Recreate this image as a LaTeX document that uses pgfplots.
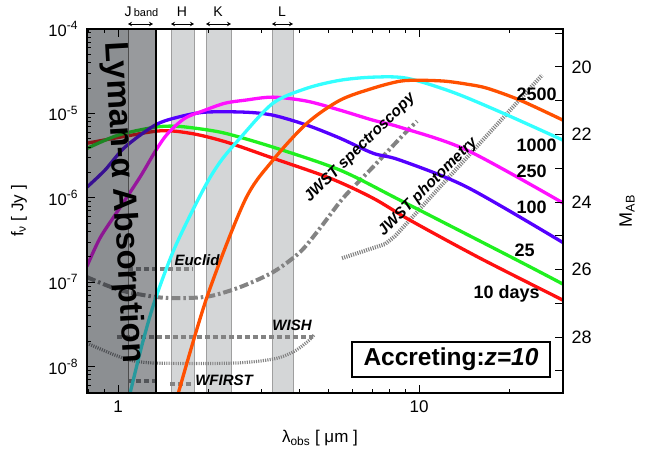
\documentclass[border=0pt]{standalone}
\usepackage{pgfplots}
\pgfplotsset{compat=1.18}
\usepackage{fontspec}
\setmainfont{Liberation Sans}
\usetikzlibrary{arrows.meta}
\newcommand{\fs}[1]{\fontsize{#1}{#1}\selectfont}
\newcommand{\tp}[1]{10\raisebox{0.42em}{\fs{12}-#1}}
\definecolor{cred}{HTML}{FF1010}
\definecolor{cgreen}{HTML}{20F020}
\definecolor{cblue}{HTML}{5500FF}
\definecolor{cmag}{HTML}{FF10FF}
\definecolor{ccyan}{HTML}{33FFFF}
\definecolor{corange}{HTML}{FF5000}
\definecolor{cgray}{HTML}{838383}
\definecolor{cband}{HTML}{D4D6D7}
\definecolor{cdark}{HTML}{1A1F26}
\begin{document}
\begin{tikzpicture}[x=1pt,y=1pt]
\useasboundingbox (0,0) rectangle (652,448);
\begin{axis}[
  at={(87pt,55pt)}, anchor=south west, scale only axis,
  width=476pt, height=364pt,
  xmode=log, ymode=log,
  xmin=0.789, xmax=30.09, ymin=4.88e-9, ymax=1e-4,
  xtick={1,10}, xticklabels={1,10},
  minor xtick={0.8,0.9,2,3,4,5,6,7,8,9,20,30},
  ytick={1e-8,1e-7,1e-6,1e-5,1e-4},
  yticklabels={\tp{8},\tp{7},\tp{6},\tp{5},\tp{4}},
  minor ytick={6e-9,7e-9,8e-9,9e-9,2e-8,3e-8,4e-8,5e-8,6e-8,7e-8,8e-8,9e-8,2e-7,3e-7,4e-7,5e-7,6e-7,7e-7,8e-7,9e-7,2e-6,3e-6,4e-6,5e-6,6e-6,7e-6,8e-6,9e-6,2e-5,3e-5,4e-5,5e-5,6e-5,7e-5,8e-5,9e-5},
  ytick pos=left,
  tick align=inside,
  major tick length=8pt, minor tick length=4.5pt,
  every tick/.style={black, line width=0.9pt},
  axis line style={line width=1.4pt},
  axis on top,
  /pgf/number format/assume math mode=true,
  yticklabel style={font=\fs{16.5}, xshift=-6pt},
  xticklabel style={font=\fs{17}, yshift=-4pt},
]
% light bands H, K, L
\addplot[fill=cband, draw=gray!75, line width=0.6pt, forget plot] coordinates {(1.50,1e-10) (1.79,1e-10) (1.79,1e-3) (1.50,1e-3)} -- cycle;
\addplot[fill=cband, draw=gray!75, line width=0.6pt, forget plot] coordinates {(1.96,1e-10) (2.37,1e-10) (2.37,1e-3) (1.96,1e-3)} -- cycle;
\addplot[fill=cband, draw=gray!75, line width=0.6pt, forget plot] coordinates {(3.25,1e-10) (3.81,1e-10) (3.81,1e-3) (3.25,1e-3)} -- cycle;
% survey limits
\addplot[cgray, line width=4pt, dash pattern=on 9pt off 3pt on 2.5pt off 3pt, smooth] coordinates {(0.789,1.151e-7) (1.015,8.07e-8) (1.348,6.67e-8) (1.644,6.49e-8) (2.021,6.85e-8) (2.543,8.76e-8) (3.273,1.319e-7) (4.025,2.28e-7) (4.690,4.38e-7) (5.593,9.92e-7) (6.873,2.13e-6) (8.848,5.53e-6) (9.849,8.09e-6)};
\addplot[cgray, line width=4pt, dash pattern=on 1.1pt off 1.2pt] coordinates {(5.550,1.93e-7) (7.709,2.83e-7) (8.323,3.52e-7) (25.63,2.84e-5)};
\addplot[cgray, line width=3.2pt, dash pattern=on 1.1pt off 1.2pt, smooth] coordinates {(0.789,1.90e-8) (0.9407,1.45e-8) (1.096,1.197e-8) (1.348,1.103e-8) (2.411,1.103e-8) (3.273,1.23e-8) (3.814,1.49e-8) (4.246,1.955e-8) (4.479,2.37e-8)};
\addplot[cgray, line width=3.5pt, dash pattern=on 5pt off 3pt] coordinates {(1.080,1.432e-7) (1.775,1.432e-7)};
\addplot[cgray, line width=3.5pt, dash pattern=on 5pt off 3pt] coordinates {(0.992,2.24e-8) (4.445,2.24e-8)};
\addplot[cgray, line width=3.5pt, dash pattern=on 5pt off 3pt] coordinates {(1.080,6.76e-9) (1.327,6.76e-9)};
\addplot[cgray, line width=3.5pt, dash pattern=on 5pt off 3pt] coordinates {(1.488,6.22e-9) (1.775,6.22e-9)};
% model curves
\addplot[cred, line width=3.3pt, smooth] coordinates {(0.789,4.44e-6) (1.015,5.23e-6) (1.337,6.16e-6) (1.547,6.16e-6) (1.873,5.53e-6) (2.356,4.44e-6) (3.273,2.95e-6) (5.063,1.71e-6) (7.033,9.92e-7) (9.335,5.44e-7) (15.95,1.93e-7) (30.09,6.14e-8)};
\addplot[cgreen, line width=3.3pt, smooth] coordinates {(0.789,3.85e-6) (1.0,5.53e-6) (1.327,6.87e-6) (1.547,7.06e-6) (1.803,6.69e-6) (2.267,5.83e-6) (3.273,3.99e-6) (5.466,2.13e-6) (8.648,9.39e-7) (21.17,1.83e-7) (30.09,9.51e-8)};
\addplot[cblue, line width=3.3pt, smooth] coordinates {(0.789,1.34e-6) (0.905,2.13e-6) (1.055,3.99e-6) (1.327,7.26e-6) (1.582,9.03e-6) (1.945,1.035e-5) (2.642,1.035e-5) (3.273,9.53e-6) (4.246,7.26e-6) (5.466,5.09e-6) (7.033,3.38e-6) (8.648,2.80e-6) (14.44,1.34e-6) (30.09,2.95e-7)};
\addplot[cmag, line width=3.3pt, smooth] coordinates {(0.789,1.553e-7) (0.871,3.33e-7) (0.992,6.77e-7) (1.183,1.758e-6) (1.337,3.67e-6) (1.466,5.83e-6) (1.670,8.78e-6) (1.945,1.093e-5) (2.267,1.322e-5) (2.642,1.435e-5) (3.273,1.56e-5) (4.246,1.397e-5) (5.466,1.093e-5) (7.033,8.32e-6) (8.648,6.87e-6) (14.44,3.67e-6) (30.09,8.7e-7)};
\addplot[ccyan, line width=3.3pt, smooth] coordinates {(1.088,4.3e-9) (1.201,1.80e-8) (1.327,6.14e-8) (1.547,2.61e-7) (1.916,1.234e-6) (2.182,2.65e-6) (2.543,5.09e-6) (3.273,1.322e-5) (4.246,1.99e-5) (5.466,2.47e-5) (7.033,2.69e-5) (9.123,2.61e-5) (12.97,1.78e-5) (19.02,1.007e-5) (30.09,4.82e-6)};
\addplot[corange, line width=3.3pt, smooth] coordinates {(1.568,4.2e-9) (1.975,6.67e-8) (2.642,9.39e-7) (3.273,2.80e-6) (4.246,7.66e-6) (5.466,1.435e-5) (7.033,1.99e-5) (8.648,2.41e-5) (10.08,2.47e-5) (12.20,2.41e-5) (14.44,2.22e-5) (16.83,1.99e-5) (21.66,1.435e-5) (30.09,8.32e-6)};
% Lyman-alpha absorbed region (overlay)
\addplot[fill=cdark, fill opacity=0.5, draw=none, forget plot] coordinates {(0.6,1e-10) (1.08,1e-10) (1.08,1e-3) (0.6,1e-3)} -- cycle;
\addplot[fill=cdark, fill opacity=0.45, draw=none, forget plot] coordinates {(1.08,1e-10) (1.337,1e-10) (1.337,1e-3) (1.08,1e-3)} -- cycle;
\addplot[gray!60!black, line width=0.6pt, forget plot] coordinates {(1.08,1e-10) (1.08,1e-3)};
\addplot[black, line width=1.6pt, forget plot] coordinates {(1.337,1e-10) (1.337,1e-3)};
\end{axis}
\begin{axis}[
  at={(87pt,55pt)}, anchor=south west, scale only axis,
  width=476pt, height=364pt,
  xmin=0, xmax=1, ymin=18.878, ymax=29.654, y dir=reverse,
  xtick=\empty,
  ytick={20,22,24,26,28}, minor ytick={19,21,23,25,27,29},
  ytick pos=right, yticklabel pos=right,
  tick align=inside,
  major tick length=8pt, minor tick length=8pt,
  every tick/.style={black, line width=0.9pt},
  axis line style={line width=1.4pt},
  /pgf/number format/assume math mode=true,
  yticklabel style={font=\fs{18}, xshift=5pt},
]
\end{axis}
% axis labels
\node[rotate=90, font=\fs{17}] at (19,237) {f\textsubscript{ν} [ Jy ]};
\node[font=\fs{17}] at (320,10) {λ\textsubscript{obs} [ μm ]};
\node[rotate=90, font=\fs{18}] at (627,237) {M\textsubscript{AB}};
% band labels
\node[font=\fs{14}, anchor=base west] at (121,431) {J\,{\fs{11}band}};
\node[font=\fs{14}, anchor=base] at (182,431) {H};
\node[font=\fs{14}, anchor=base] at (218,431) {K};
\node[font=\fs{14}, anchor=base] at (282,431) {L};
\begin{scope}[line width=0.9pt, {Stealth[length=4pt,width=4.5pt]}-{Stealth[length=4pt,width=4.5pt]}]
\draw (128,424) -- (153,424);
\draw (171,424) -- (194,424);
\draw (206,424) -- (231,424);
\draw (272,424) -- (293,424);
\end{scope}
% Lyman text
\node[rotate=-86.8, font=\fs{33}\bfseries] at (123,245) {Lyman-α Absorption};
% curve labels
\begin{scope}[font=\fs{18}\bfseries]
\node[anchor=west] at (513,354) {2500};
\node[anchor=west] at (513,303) {1000};
\node[anchor=west] at (513,277) {250};
\node[anchor=west] at (513,241) {100};
\node[anchor=west] at (511,198) {25};
\node[anchor=west] at (470,154) {10 days};
\end{scope}
\begin{scope}[font=\fs{15}\bfseries\itshape]
\node at (197,188) {Euclid};
\node at (292,123) {WISH};
\node at (224,68) {WFIRST};
\node[font=\fs{15.5}\bfseries\itshape, rotate=44.5] at (360,300) {JWST spectroscopy};
\node[font=\fs{15.5}\bfseries\itshape, rotate=45] at (428,261) {JWST photometry};
\end{scope}
\node[draw, line width=1.3pt, fill=white, minimum width=198pt, minimum height=35pt, inner sep=0pt, font=\fs{24.5}\bfseries] at (451,88.5) {Accreting:\textit{z=10}};
\end{tikzpicture}
\end{document}
